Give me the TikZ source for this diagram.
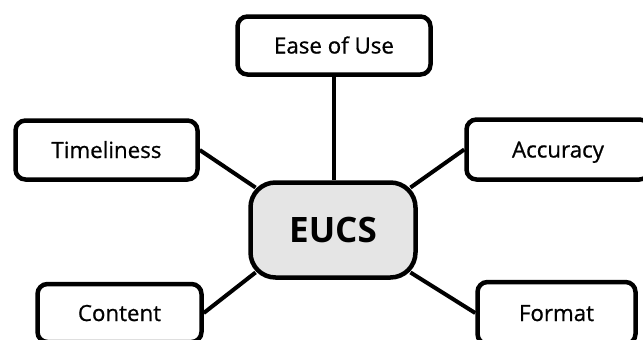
\documentclass[tikz,border=0pt]{standalone}
\usepackage{fontspec}
\setmainfont{Open Sans}
\newfontfamily\lblfont[FakeBold=0.8]{Open Sans}
\usetikzlibrary{calc}
\definecolor{eucsgray}{HTML}{E5E5E5}
\begin{document}
\begin{tikzpicture}[x=1pt,y=-1pt,
  box/.style={draw=black, line width=4.5pt, rounded corners=10pt, fill=white,
    inner sep=0pt, text height=16pt, text depth=0pt,
    font=\lblfont\fontsize{22.3}{26}\selectfont},
  hub/.style={draw=black, line width=4.5pt, rounded corners=25pt, fill=eucsgray,
    inner sep=0pt, minimum width=165pt, minimum height=95pt,
    text height=25pt, text depth=0pt,
    font=\bfseries\fontsize{35}{40}\selectfont},
  link/.style={line width=4pt, draw=black}]
\useasboundingbox (0,0) rectangle (643,340);
\fill[white] (0,0) rectangle (643,340);
\clip (0,0) rectangle (643,340);

\node[box, minimum width=193pt, minimum height=58pt] (ease) at (334,45.5) {Ease of Use};
\node[box, minimum width=182pt, minimum height=59pt] (time) at (106.5,150) {Timeliness};
\node[box, minimum width=183pt, minimum height=60pt] (acc) at (558,149.5) {Accuracy};
\node[hub] (eucs) at (333,230) {EUCS};
\node[box, minimum width=164pt, minimum height=58pt] (cont) at (119.5,313) {Content};
\node[box, minimum width=158pt, minimum height=62pt] (form) at (556.5,313) {Format};

\coordinate (cnw) at ($(eucs.north west)+(7.3,7.3)$);
\coordinate (cne) at ($(eucs.north east)+(-7.3,7.3)$);
\coordinate (csw) at ($(eucs.south west)+(7.3,-7.3)$);
\coordinate (cse) at ($(eucs.south east)+(-7.3,-7.3)$);

\draw[link] (ease.south) -- (ease.south |- eucs.north);
\draw[link] (time.east) -- (cnw);
\draw[link] (acc.west) -- (cne);
\draw[link] (cont.east) -- (csw);
\draw[link] (form.west) -- (cse);
\end{tikzpicture}
\end{document}
